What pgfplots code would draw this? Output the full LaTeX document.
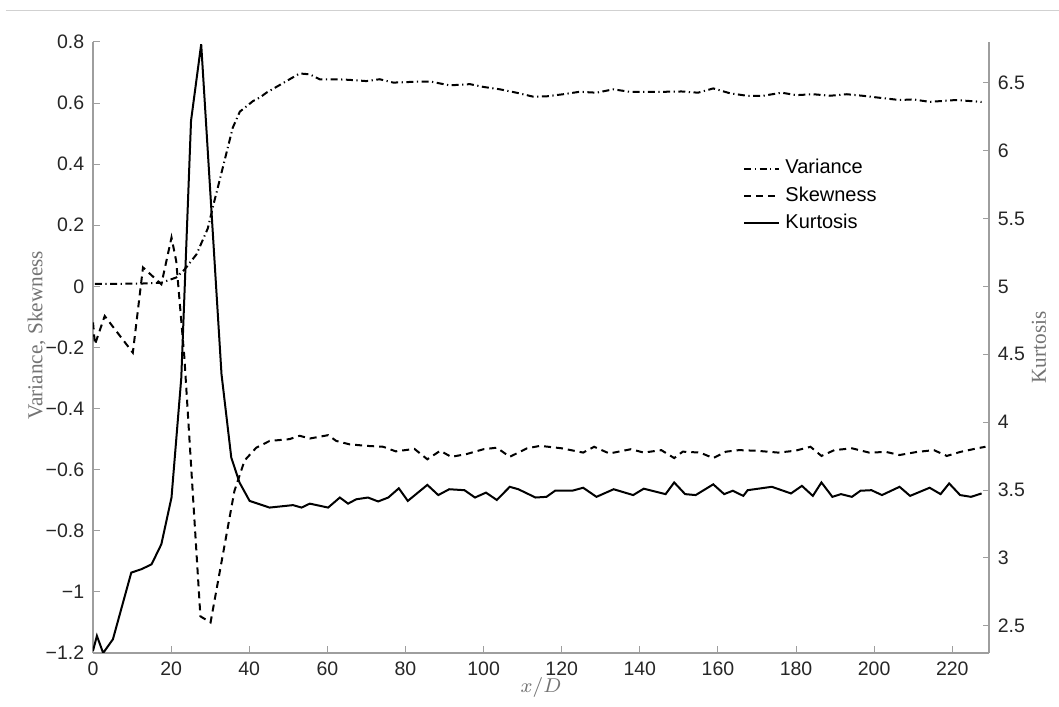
\documentclass[border=0pt]{standalone}
\usepackage{fontspec}
\setmainfont{Liberation Serif}
\setsansfont{Liberation Sans}
\usepackage{pgfplots}
\pgfplotsset{compat=1.18}

\definecolor{axgray}{gray}{0.62}
\definecolor{labgray}{gray}{0.45}
\definecolor{topgray}{gray}{0.82}

\tikzset{
  varline/.style={black, line width=0.8pt, dash pattern=on 2.8pt off 1.4pt on 0.5pt off 1.4pt},
  skwline/.style={black, line width=0.8pt, dash pattern=on 2.8pt off 2pt},
  kurline/.style={black, line width=0.8pt},
}

\pgfplotsset{
  twin/.style={
    scale only axis, width=358.4pt, height=244.4pt,
    xmin=0, xmax=229.4,
    tick align=inside, major tick length=2.6pt,
    axis line style={axgray, line width=0.5pt},
    tick style={axgray, line width=0.4pt},
    ticklabel style={font=\sffamily\fontsize{7.8}{9}\selectfont, text=black!85},
    /pgf/number format/assume math mode=true,
    label style={font=\fontsize{8.5}{10}\selectfont, text=labgray},
  },
}

\begin{document}
\begin{tikzpicture}
\begin{axis}[twin, name=ax,
  ymin=-1.2, ymax=0.8,
  axis y line*=left, axis x line*=bottom,
  xtick={0,20,40,60,80,100,120,140,160,180,200,220},
  ytick={-1.2,-1,-0.8,-0.6,-0.4,-0.2,0,0.2,0.4,0.6,0.8},
  yticklabels={−1.2,−1,−0.8,−0.6,−0.4,−0.2,0,0.2,0.4,0.6,0.8},
  xlabel={$x/D$}, ylabel={Variance, Skewness},
  xlabel style={at={(axis description cs:0.5,-0.057)}, anchor=center},
  ylabel style={at={(axis description cs:-0.043,0.52)}, anchor=south},
]
% variance
\addplot[varline] coordinates {
(0.5,0.008) (12,0.009) (17.5,0.012) (21.3,0.029) (23.5,0.056) (26.5,0.105)
(29.4,0.19) (30.7,0.26) (35.8,0.52) (37.6,0.572) (41,0.607) (42.7,0.618)
(44.4,0.634) (48.6,0.665) (52.9,0.697) (55.5,0.694) (58,0.678) (62.3,0.678)
(65.7,0.676) (70,0.672) (73.4,0.678) (76.9,0.667) (82.8,0.670) (86.6,0.670)
(91.3,0.658) (96.5,0.662) (99.9,0.653) (104.2,0.645) (108.4,0.634) (112.7,0.621)
(116.1,0.622) (120.4,0.629) (124.6,0.637) (128.9,0.634) (133.2,0.645) (137.4,0.637)
(141.7,0.637) (146.4,0.637) (150.7,0.638) (154.9,0.634) (158.8,0.648) (163.1,0.632)
(167.4,0.624) (171.6,0.624) (176.3,0.634) (180.1,0.626) (184.4,0.629) (188.7,0.624)
(193,0.629) (197,0.624) (201,0.618) (206.5,0.610) (210,0.612) (214.2,0.604)
(220.9,0.610) (227.5,0.604)
};
% skewness
\addplot[skwline] coordinates {
(0,-0.118) (0.5,-0.19) (3,-0.097) (10.2,-0.217) (12.8,0.062) (17.5,0.007)
(20.1,0.16) (21.3,0.083) (23.4,-0.233) (27.5,-1.08) (30.1,-1.10) (36.2,-0.67)
(38.8,-0.57) (41.8,-0.528) (45.2,-0.506) (50.3,-0.50) (52.9,-0.489) (55.5,-0.498)
(60.2,-0.487) (62.3,-0.506) (65.7,-0.517) (70,-0.522) (74.3,-0.525) (77.5,-0.54)
(82.3,-0.532) (85.6,-0.566) (88.9,-0.538) (91.7,-0.558) (95.6,-0.549) (100,-0.533)
(103.4,-0.528) (106.7,-0.558) (111.1,-0.53) (114.5,-0.522) (120,-0.53) (125.5,-0.544)
(128.3,-0.525) (132.2,-0.547) (137.7,-0.533) (141,-0.544) (145.5,-0.536) (148.8,-0.562)
(151,-0.541) (155.4,-0.544) (158.8,-0.562) (162.1,-0.541) (165.4,-0.536) (169.9,-0.538)
(175.4,-0.544) (179.8,-0.538) (183.7,-0.525) (186.5,-0.555) (189.8,-0.536) (194.3,-0.53)
(198.7,-0.544) (203.1,-0.542) (206.5,-0.552) (210.9,-0.542) (215.3,-0.536) (218.6,-0.555)
(222,-0.542) (226.4,-0.53) (228.5,-0.525)
};
\end{axis}

\begin{axis}[twin,
  ymin=2.3, ymax=6.8,
  axis y line*=right, axis x line=none,
  ytick={2.5,3,3.5,4,4.5,5,5.5,6,6.5},
  ylabel={Kurtosis},
  ylabel style={at={(axis description cs:1.038,0.5)}, anchor=north},
  legend style={draw=none, fill=none, at={(0.717,0.825)}, anchor=north west,
    font=\sffamily\fontsize{8}{9.6}\selectfont, row sep=-0.4pt},
  legend cell align=left,
  legend image code/.code={\draw[#1] (0pt,0pt) -- (14pt,0pt);},
]
\addlegendimage{varline}
\addlegendimage{skwline}
% kurtosis
\addplot[kurline] coordinates {
(0,2.316) (1,2.426) (2.6,2.30) (5.1,2.401) (9.8,2.892) (12.4,2.917) (15,2.953)
(17.5,3.101) (20.1,3.445) (22.6,4.325) (25.1,6.22) (27.7,6.784) (32.9,4.354)
(35.4,3.74) (37.5,3.556) (40.1,3.42) (45.2,3.371) (51.2,3.389) (53.4,3.371)
(55.5,3.40) (60.2,3.371) (63.2,3.445) (65.3,3.40) (67.4,3.432) (70.4,3.445)
(73,3.416) (75.6,3.445) (78.3,3.513) (80.6,3.42) (85.6,3.538) (88.4,3.463)
(91.2,3.506) (95.1,3.499) (97.8,3.445) (100.6,3.481) (103.4,3.427) (106.7,3.524)
(108.9,3.506) (113.3,3.445) (116.1,3.45) (118.3,3.495) (122.7,3.495) (125.5,3.517)
(128.9,3.45) (133.3,3.506) (138.3,3.463) (141,3.51) (146.6,3.47) (148.8,3.556)
(151.6,3.47) (154.3,3.463) (158.8,3.542) (161.6,3.47) (163.8,3.495) (166.5,3.457)
(167.6,3.499) (173.8,3.524) (178.7,3.475) (181.5,3.531) (184.3,3.457) (186.5,3.556)
(189.3,3.45) (191.5,3.47) (194.3,3.45) (196.5,3.495) (199.3,3.499) (202,3.463)
(206.5,3.524) (209.2,3.457) (214.2,3.517) (217,3.47) (219.2,3.549) (222,3.463)
(224.8,3.45) (227.5,3.475)
};
\legend{Variance, Skewness, Kurtosis}
\end{axis}

\draw[topgray, line width=0.5pt] ([shift={(-34.8pt,12.5pt)}]ax.north west) -- ([shift={(28pt,12.5pt)}]ax.north east);
\pgfresetboundingbox
\path[use as bounding box] ([shift={(-37.2pt,-21.6pt)}]ax.south west) rectangle ([shift={(28pt,16.8pt)}]ax.north east);
\end{tikzpicture}
\end{document}
